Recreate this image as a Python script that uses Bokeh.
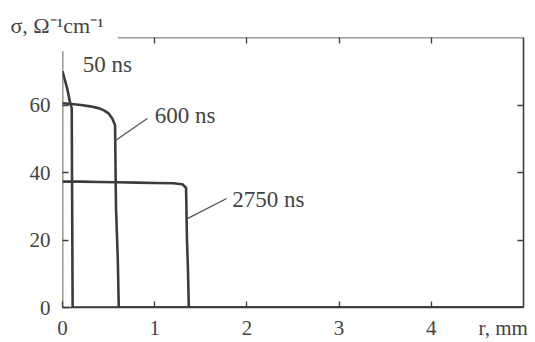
from bokeh.plotting import figure
from bokeh.models import Range1d, LinearAxis, FixedTicker, Label, Arrow, CustomJSTickFormatter
from bokeh.embed import file_html
from bokeh.resources import INLINE

# Radial conductivity profiles sigma(r) at three times after the discharge
r_50 = [0.0, 0.02, 0.05, 0.08, 0.10, 0.11, 5.0]
sigma_50 = [70.0, 68.0, 65.0, 61.0, 59.0, 0.0, 0.0]

r_600 = [0.0, 0.1, 0.2, 0.3, 0.4, 0.45, 0.5, 0.54, 0.57, 0.58, 0.60, 0.61, 5.0]
sigma_600 = [60.5, 60.3, 60.0, 59.6, 59.0, 58.4, 57.5, 56.0, 54.0, 30.0, 14.0, 0.0, 0.0]

r_2750 = [0.0, 0.2, 0.4, 0.6, 0.8, 1.0, 1.2, 1.3, 1.34, 1.35, 1.36, 1.37, 5.0]
sigma_2750 = [37.3, 37.3, 37.2, 37.1, 37.0, 36.9, 36.8, 36.5, 35.5, 20.0, 12.0, 0.0, 0.0]

x_ticks = [0, 1, 2, 3, 4]
y_ticks = [0, 20, 40, 60]
x_unit_pos = 4.78
x_unit_text = "r, mm"

INK = "#3c3c3c"
TXT = "#444444"
FONT = "Liberation Serif"

p = figure(width=535, height=342, x_range=Range1d(0, 5), y_range=Range1d(0, 80),
           output_backend="svg", toolbar_location=None,
           min_border_left=62, min_border_right=12, min_border_top=37, min_border_bottom=35)
p.outline_line_color = None
p.xgrid.visible = False
p.ygrid.visible = False
p.background_fill_color = "white"
p.border_fill_color = "white"

# y quantity and unit, written as the plot title at the top-left corner
p.title.text = "σ, Ω⁻¹cm⁻¹"
p.title.align = "left"
p.title.offset = -52
p.title.standoff = 0
p.title.text_font = FONT
p.title.text_font_size = "22px"
p.title.text_font_style = "normal"
p.title.text_color = TXT


def tick_style(ax):
    ax.major_tick_in = 6
    ax.major_tick_out = 0
    ax.minor_tick_line_color = None
    ax.major_tick_line_color = INK
    ax.major_tick_line_width = 1.3
    ax.axis_line_color = INK
    ax.axis_line_width = 1.6


blank = CustomJSTickFormatter(code="return ''")

# bottom edge: one axis for the tick marks, a second one for the labels
xa = p.xaxis[0]
xa.ticker = FixedTicker(ticks=x_ticks)
xa.formatter = blank
tick_style(xa)
xa.major_label_standoff = 0

xlab = LinearAxis(ticker=FixedTicker(ticks=x_ticks + [x_unit_pos]),
                  major_label_overrides={x_unit_pos: x_unit_text})
xlab.axis_line_color = None
xlab.major_tick_line_color = None
xlab.minor_tick_line_color = None
xlab.major_tick_out = 0
xlab.major_tick_in = 0
xlab.major_label_standoff = 8
xlab.major_label_text_font = FONT
xlab.major_label_text_font_size = "21px"
xlab.major_label_text_color = TXT
p.add_layout(xlab, "below")

ya = p.yaxis[0]
ya.ticker = FixedTicker(ticks=y_ticks)
tick_style(ya)
ya.major_label_text_font = FONT
ya.major_label_text_font_size = "21px"
ya.major_label_text_color = TXT
ya.major_label_standoff = 12
ya.axis_line_color = None

# tick-only axes on the top and right edges
top = LinearAxis(ticker=FixedTicker(ticks=x_ticks[1:]), formatter=blank)
right = LinearAxis(ticker=FixedTicker(ticks=y_ticks[1:]), formatter=blank)
for ax in (top, right):
    tick_style(ax)
    ax.major_label_standoff = 0
top.axis_line_color = None
p.add_layout(top, "above")
p.add_layout(right, "right")

# open frame: left edge stops short of the top, top edge starts past the title
p.add_layout(Arrow(end=None, x_start=0, y_start=0, x_end=0, y_end=76,
                   line_color=INK, line_width=1.6))
p.add_layout(Arrow(end=None, x_start=0.6, y_start=80, x_end=5, y_end=80,
                   line_color=INK, line_width=1.6))

for rx, sy in ((r_50, sigma_50), (r_600, sigma_600), (r_2750, sigma_2750)):
    p.line(rx, sy, line_color=INK, line_width=2.6, line_join="round")

# leader lines to the curve labels
leader_x0 = [0.575, 1.36]
leader_y0 = [49.5, 26.4]
leader_x1 = [0.92, 1.78]
leader_y1 = [56.0, 32.3]
p.segment(leader_x0, leader_y0, leader_x1, leader_y1, line_color="#555555", line_width=1.3)

curve_labels = ["50 ns", "600 ns", "2750 ns"]
label_x = [0.22, 1.0, 1.84]
label_y = [72.0, 57.0, 32.0]
for t, lx, ly in zip(curve_labels, label_x, label_y):
    p.add_layout(Label(x=lx, y=ly, text=t, text_font=FONT, text_font_size="23px",
                       text_color=TXT, text_baseline="middle"))

open("out.html", "w").write(file_html(p, INLINE))
